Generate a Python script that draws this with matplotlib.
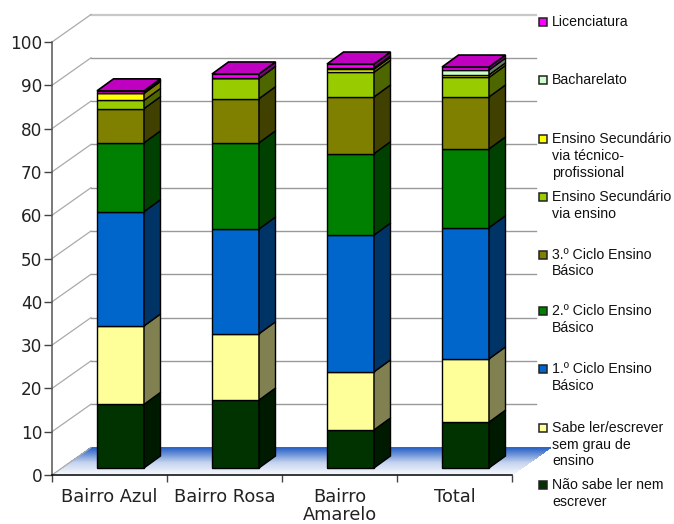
import numpy as np
import matplotlib
matplotlib.use('Agg')
import matplotlib.pyplot as plt
from matplotlib.patches import Polygon, Rectangle
from matplotlib.colors import LinearSegmentedColormap

# Percentagens por nivel de escolaridade, de baixo para cima em cada coluna
bairros = ['Bairro Azul', 'Bairro Rosa', 'Bairro\nAmarelo', 'Total']
nao_sabe = [14.7, 15.7, 8.8, 10.6]
sabe_ler = [18.1, 15.3, 13.4, 14.6]
ciclo_1 = [26.4, 24.2, 31.6, 30.3]
ciclo_2 = [15.9, 19.9, 18.8, 18.2]
ciclo_3 = [7.9, 10.2, 13.1, 12.0]
sec_ensino = [1.9, 4.7, 5.7, 4.5]
sec_tecnico = [1.6, 0.0, 0.7, 0.6]
bacharelato = [0.2, 0.0, 0.3, 1.1]
licenciatura = [0.4, 1.0, 0.9, 0.7]

series = [nao_sabe, sabe_ler, ciclo_1, ciclo_2, ciclo_3,
          sec_ensino, sec_tecnico, bacharelato, licenciatura]
cores = ['#003300', '#FFFF99', '#0066CC', '#008000', '#808000',
         '#99CC00', '#FFFF00', '#CCFFCC', '#FF00FF']
cores_lado = ['#001A00', '#808050', '#003366', '#004000', '#404000',
              '#4D6600', '#808000', '#668066', '#800080']
cor_topo = '#C000C0'

# Legenda: (rotulo, y da caixa, y de cada linha) em pixeis
legenda = [
    (['Licenciatura'], 22, [22], '#FF00FF'),
    (['Bacharelato'], 80, [80], '#CCFFCC'),
    (['Ensino Secundário', 'via técnico-', 'profissional'], 139, [139, 156, 173], '#FFFF00'),
    (['Ensino Secundário', 'via ensino'], 197, [197, 214], '#99CC00'),
    (['3.º Ciclo Ensino', 'Básico'], 255, [255, 271], '#808000'),
    (['2.º Ciclo Ensino', 'Básico'], 311, [311, 328], '#008000'),
    (['1.º Ciclo Ensino', 'Básico'], 369, [369, 386], '#0066CC'),
    (['Sabe ler/escrever', 'sem grau de', 'ensino'], 428, [428, 445, 461], '#FFFF99'),
    (['Não sabe ler nem', 'escrever'], 485, [485, 502], '#003300'),
]

W, H = 674, 524
fig = plt.figure(figsize=(W / 100, H / 100), dpi=100, facecolor='white')
ax = fig.add_axes([52 / W, (H - 475) / H, 460 / W, 433 / H])
ax.set_xlim(0, 4)
ax.set_ylim(0, 100)

# Conversao de pixeis para unidades dos eixos
px = 4 / 460
py = 100 / 433
parede_dx, parede_dy = 39 * px, 27.5 * py
barra_dx, barra_dy = 16.5 * px, 12 * py
barra_larg = 47 * px
barra_esq = 45 * px
chao_y = 7 * py
grelha_fim = 4 + 24 * px

# Chao azul em degrade, uma faixa por linha de pixeis
degrade = LinearSegmentedColormap.from_list('chao', ['#FFFFFF', '#C4D2EE', '#2F66C8'])
n_faixas = 28
for i in range(n_faixas):
    t0, t1 = i / n_faixas, (i + 1) / n_faixas
    ax.add_patch(Polygon([(t0 * parede_dx, t0 * parede_dy), (4 + t0 * parede_dx, t0 * parede_dy),
                          (4 + t1 * parede_dx, t1 * parede_dy), (t1 * parede_dx, t1 * parede_dy)],
                         closed=True, facecolor=degrade(t1), edgecolor='none',
                         antialiased=False, clip_on=False, zorder=1))

# Grelha da parede do fundo e linhas diagonais
for v in range(0, 101, 10):
    if v > 0:
        cor = '#C8C8C8' if v == 100 else '#999999'
        larg = 1.6 if v == 100 else 1.0
        ax.plot([parede_dx, grelha_fim], [v + parede_dy] * 2, color=cor, lw=larg,
                clip_on=False, zorder=1.5)
    ax.plot([0, parede_dx], [v, v + parede_dy], color='#AAAAAA', lw=0.9,
            clip_on=False, zorder=1.5)

# Colunas empilhadas com face lateral e topo
pos = np.arange(len(bairros)) + barra_esq
base = np.zeros(len(bairros))
for valores, cor, lado in zip(series, cores, cores_lado):
    valores = np.array(valores)
    ax.bar(pos, valores, width=barra_larg, bottom=base + chao_y, align='edge',
           color=cor, edgecolor='black', linewidth=1.0, clip_on=False, zorder=3)
    for x, b, v in zip(pos, base, valores):
        xd = x + barra_larg
        y0 = b + chao_y
        ax.add_patch(Polygon([(xd, y0), (xd + barra_dx, y0 + barra_dy),
                              (xd + barra_dx, y0 + v + barra_dy), (xd, y0 + v)],
                             closed=True, facecolor=lado, edgecolor='black',
                             linewidth=1.0, clip_on=False, zorder=3))
    base = base + valores

for x, b in zip(pos, base):
    y0 = b + chao_y
    ax.add_patch(Polygon([(x, y0), (x + barra_larg, y0),
                          (x + barra_larg + barra_dx, y0 + barra_dy),
                          (x + barra_dx, y0 + barra_dy)],
                         closed=True, facecolor=cor_topo, edgecolor='black',
                         linewidth=1.2, clip_on=False, zorder=3.5))

# Eixos
for lado in ['top', 'right']:
    ax.spines[lado].set_visible(False)
ax.spines['left'].set_color('#555555')
ax.spines['left'].set_linewidth(1.1)
ax.spines['bottom'].set_color('black')
ax.spines['bottom'].set_linewidth(1.1)
ax.patch.set_visible(False)

ax.set_yticks(range(0, 101, 10))
ax.tick_params(axis='y', length=6, width=1.0, color='#444444', labelsize=12.2,
               labelcolor='#222222', pad=1)
ax.set_xticks(range(5))
ax.set_xticklabels([])
ax.tick_params(axis='x', which='major', length=5, width=1.0, color='#444444')
ax.set_xticks(np.arange(4) + 0.5, minor=True)
ax.set_xticklabels(bairros, minor=True, fontsize=12.8, color='#222222', linespacing=1.0)
ax.tick_params(axis='x', which='minor', length=0, pad=9)

# Legenda desenhada a mao porque as entradas tem espacamentos irregulares
for linhas, yc, ys, cor in legenda:
    fig.add_artist(Rectangle((538.5 / W, 1 - (yc + 4) / H), 8 / W, 8 / H, facecolor=cor,
                             edgecolor='#222222', linewidth=1.1,
                             transform=fig.transFigure))
    for texto, y in zip(linhas, ys):
        fig.text(552 / W, 1 - y / H, texto, fontsize=10.2, family='Liberation Sans',
                 color='#111111', va='center', ha='left')

fig.savefig('out.png', dpi=100, facecolor='white')
